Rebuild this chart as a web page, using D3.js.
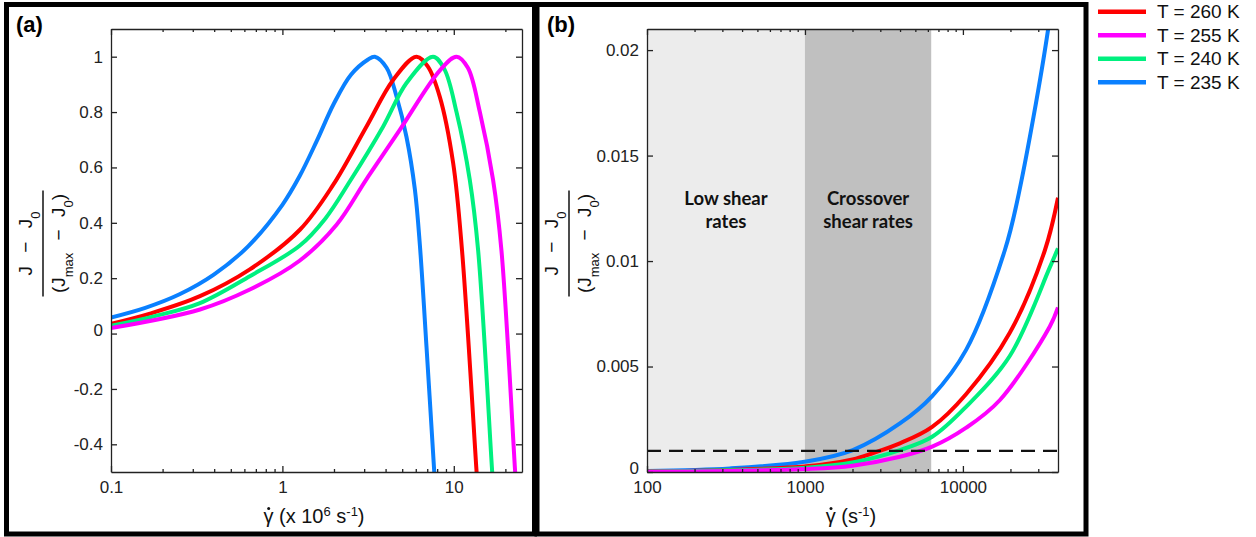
<!DOCTYPE html>
<html><head><meta charset="utf-8">
<script src="https://cdn.jsdelivr.net/npm/d3@7"></script>
<style>
body{margin:0;background:#fff;}
svg{display:block;font-family:"Liberation Sans",Arial,Helvetica,sans-serif;}
</style></head>
<body><svg id="c" width="1256" height="537"></svg>
<script>
// ---------- DATA ----------
const seriesNames = ["T = 260 K","T = 255 K","T = 240 K","T = 235 K"];
const seriesColors = ["#ff0000","#ff00ff","#00f07f","#0a80ff"];

// panel (a): shear rate (x 10^6 s^-1) vs normalised J
const a260_x = [0.1,0.1687,0.3304,0.6457,1.265,1.968,3.097,4.426,6.053,7.047,8.279,9.908,11.17,13.55,13.96];
const a260_y = [0.035,0.072,0.135,0.232,0.375,0.535,0.748,0.916,1.0,0.965,0.856,0.617,0.30,-0.49,-0.61];
const a255_x = [0.1,0.3304,0.6457,1.259,2.070,3.097,4.842,8.279,10.38,12.08,14.19,16.94,18.97,22.75,23.44];
const a255_y = [0.02,0.087,0.159,0.263,0.393,0.558,0.736,0.95,1.0,0.96,0.80,0.556,0.30,-0.49,-0.62];
const a240_x = [0.1,0.1778,0.3304,0.6457,1.265,1.778,2.477,3.873,5.297,7.568,8.81,10.37,12.39,13.87,16.71,17.22];
const a240_y = [0.028,0.062,0.11,0.207,0.318,0.415,0.55,0.748,0.905,1.0,0.955,0.80,0.556,0.30,-0.49,-0.61];
const a235_x = [0.1,0.1585,0.2512,0.398,0.631,1.0,1.259,1.585,1.995,2.512,3.162,3.46,4.055,4.634,5.297,5.929,6.339,6.934,7.674,7.889];
const a235_y = [0.058,0.093,0.142,0.213,0.315,0.465,0.568,0.695,0.83,0.935,0.99,1.0,0.96,0.856,0.71,0.52,0.32,-0.05,-0.49,-0.61];

// panel (b): shear rate (s^-1) vs normalised J
const b260_x = [100,335,1020,2000,2700,3990,6390,10500,19800,33000,40000];
const b260_y = [0.00003,0.0001,0.00027,0.0006,0.0009,0.00136,0.00214,0.0037,0.0066,0.0105,0.013];
const b255_x = [100,335,1020,2000,3990,6390,10500,17100,35500,40000];
const b255_y = [0.00001,0.00005,0.00014,0.0003,0.00072,0.0012,0.0021,0.0034,0.0069,0.0078];
const b240_x = [100,335,1020,2000,3990,6390,10500,19800,35500,40000];
const b240_y = [0.00002,0.00008,0.0002,0.00045,0.00104,0.00167,0.0031,0.0055,0.0097,0.0106];
const b235_x = [100,335,1020,2010,3990,6390,10500,18400,22300,34500,40000];
const b235_y = [0.00005,0.00017,0.0005,0.00104,0.0023,0.0036,0.0058,0.0105,0.013,0.0209,0.025];

const lowShear = [100,1000];
const crossShear = [1000,6300];
const threshold = 0.001;

const aXMajor = [0.1,1,10];
const aYTicks = [-0.4,-0.2,0,0.2,0.4,0.6,0.8,1];
const bXMajor = [100,1000,10000];
const bYTicks = [0,0.005,0.01,0.015,0.02];

// ---------- DRAW ----------
const svg = d3.select("#c");
const zip = (xs,ys)=>xs.map((x,i)=>[x,ys[i]]);

const aX = d3.scaleLog().domain([0.1,25]).range([111,522]);
const aY = d3.scaleLinear().domain([-0.5,1.1]).range([472,29]);
const bX = d3.scaleLog().domain([100,40000]).range([647,1058]);
const bY = d3.scaleLinear().domain([0,0.021]).range([472,29]);

// outer frames
svg.append("rect").attr("x",6.5).attr("y",4.5).attr("width",528).attr("height",529.5)
  .attr("fill","none").attr("stroke","#000").attr("stroke-width",5);
svg.append("rect").attr("x",537).attr("y",4.5).attr("width",549).attr("height",529.5)
  .attr("fill","none").attr("stroke","#000").attr("stroke-width",5);

function clip(id,x,y){
  svg.append("clipPath").attr("id",id).append("rect")
    .attr("x",x.range()[0]).attr("y",y.range()[1])
    .attr("width",x.range()[1]-x.range()[0]).attr("height",y.range()[0]-y.range()[1]);
}
clip("ca",aX,aY); clip("cb",bX,bY);

// shaded regions panel b
svg.append("rect").attr("x",bX(lowShear[0])).attr("y",bY.range()[1])
  .attr("width",bX(lowShear[1])-bX(lowShear[0])).attr("height",bY.range()[0]-bY.range()[1])
  .attr("fill","#ececec");
svg.append("rect").attr("x",bX(crossShear[0])).attr("y",bY.range()[1])
  .attr("width",bX(crossShear[1])-bX(crossShear[0])).attr("height",bY.range()[0]-bY.range()[1])
  .attr("fill","#c0c0c0");

const regionText = (cx, lines)=>{
  const t = svg.append("text").attr("text-anchor","middle")
    .attr("font-family","Lato, 'Open Sans', sans-serif").attr("font-weight","bold")
    .attr("font-size",18.5).attr("fill","#111");
  lines.forEach((l,i)=>t.append("tspan").attr("x",cx).attr("y",205+i*23).text(l));
};
regionText((bX(lowShear[0])+bX(lowShear[1]))/2, ["Low shear","rates"]);
regionText((bX(crossShear[0])+bX(crossShear[1]))/2, ["Crossover","shear rates"]);

function axes(x,y,xMajor,yTicks){
  const minor = x.ticks().filter(v=>!xMajor.some(m=>Math.abs(m-v)/m<1e-6) && v<x.domain()[1]*0.999);
  const g = svg.append("g");
  const yb = y.range()[0], yt = y.range()[1], xl = x.range()[0], xr = x.range()[1];
  const styl = s=>{s.selectAll("path,line").attr("stroke","#222").attr("stroke-width",1.3);};
  g.append("g").attr("transform",`translate(0,${yb})`)
    .call(d3.axisBottom(x).tickValues(xMajor).tickSize(-6).tickSizeOuter(0).tickPadding(9).tickFormat(d=>String(d)))
    .call(styl);
  g.append("g").attr("transform",`translate(0,${yb})`)
    .call(d3.axisBottom(x).tickValues(minor).tickSize(-3).tickSizeOuter(0).tickFormat(""))
    .call(s=>s.select(".domain").remove()).call(styl);
  g.append("g").attr("transform",`translate(0,${yt})`)
    .call(d3.axisTop(x).tickValues(xMajor).tickSize(-6).tickSizeOuter(0).tickFormat(""))
    .call(styl);
  g.append("g").attr("transform",`translate(0,${yt})`)
    .call(d3.axisTop(x).tickValues(minor).tickSize(-3).tickSizeOuter(0).tickFormat(""))
    .call(s=>s.select(".domain").remove()).call(styl);
  const la = g.append("g").attr("transform",`translate(${xl},0)`)
    .call(d3.axisLeft(y).tickValues(yTicks).tickSize(-6).tickSizeOuter(0).tickPadding(8).tickFormat(d=>String(d)))
    .call(styl);
  la.selectAll(".tick").filter(d=>d===0).select("text").attr("dy","0.1em");
  g.append("g").attr("transform",`translate(${xr},0)`)
    .call(d3.axisRight(y).tickValues(yTicks).tickSize(-6).tickSizeOuter(0).tickFormat(""))
    .call(styl);
  g.selectAll(".tick text").attr("font-family","'Liberation Sans',Arial,sans-serif").attr("font-size",17).attr("fill","#222");
}

// curves
const aData = [zip(a260_x,a260_y),zip(a255_x,a255_y),zip(a240_x,a240_y),zip(a235_x,a235_y)];
const bData = [zip(b260_x,b260_y),zip(b255_x,b255_y),zip(b240_x,b240_y),zip(b235_x,b235_y)];
const drawOrder = [3,0,2,1];

function curves(data,x,y,cid){
  const line = d3.line().x(d=>x(d[0])).y(d=>y(d[1])).curve(d3.curveCatmullRom.alpha(0.5));
  const g = svg.append("g").attr("clip-path",`url(#${cid})`);
  drawOrder.forEach(i=>{
    g.append("path").attr("d",line(data[i])).attr("fill","none")
      .attr("stroke",seriesColors[i]).attr("stroke-width",4).attr("stroke-linejoin","round");
  });
  return g;
}
curves(aData,aX,aY,"ca");
const gb = curves(bData,bX,bY,"cb");
gb.append("line").attr("x1",bX.range()[0]).attr("x2",bX.range()[1])
  .attr("y1",bY(threshold)).attr("y2",bY(threshold))
  .attr("stroke","#111").attr("stroke-width",2.2).attr("stroke-dasharray","14,8");

axes(aX,aY,aXMajor,aYTicks);
axes(bX,bY,bXMajor,bYTicks);

// panel labels
svg.append("text").attr("x",16).attr("y",32).attr("font-weight","bold").attr("font-size",22).text("(a)");
svg.append("text").attr("x",547).attr("y",32).attr("font-weight","bold").attr("font-size",22).text("(b)");

// x axis labels
function xLabel(cx, withExp){
  const fs = 20;
  const t = svg.append("text").attr("x",cx).attr("y",523).attr("text-anchor","middle")
    .attr("font-size",fs).attr("fill","#111");
  t.append("tspan").text("γ (");
  if(withExp){
    t.append("tspan").text("x 10");
    t.append("tspan").attr("baseline-shift","super").attr("font-size",13).text("6");
    t.append("tspan").text(" s");
  } else {
    t.append("tspan").text("s");
  }
  t.append("tspan").attr("baseline-shift","super").attr("font-size",13).text("-1");
  t.append("tspan").text(")");
  const ext = t.node().getExtentOfChar(0);
  svg.append("circle").attr("cx",ext.x+ext.width*0.52).attr("cy",523-fs*0.72).attr("r",1.5).attr("fill","#111");
}
xLabel(314,true);
xLabel(851,false);

// y axis labels (fraction)
function yLabel(lx, cy){
  const g = svg.append("g").attr("transform",`translate(${lx},${cy}) rotate(-90)`);
  g.append("line").attr("x1",-53).attr("x2",53).attr("y1",0).attr("y2",0)
    .attr("stroke","#111").attr("stroke-width",1.5);
  const n = g.append("text").attr("x",0).attr("y",-11).attr("text-anchor","middle")
    .attr("font-size",19).attr("fill","#111");
  n.append("tspan").text("J");
  n.append("tspan").attr("dx",8).text(" − ");
  n.append("tspan").attr("dx",8).text("J");
  n.append("tspan").attr("baseline-shift","sub").attr("font-size",13).text("0");
  const d = g.append("text").attr("x",0).attr("y",22).attr("text-anchor","middle")
    .attr("font-size",19).attr("fill","#111");
  d.append("tspan").text("(J");
  d.append("tspan").attr("baseline-shift","sub").attr("font-size",13).text("max");
  d.append("tspan").attr("dx",7).text(" − ");
  d.append("tspan").attr("dx",7).text("J");
  d.append("tspan").attr("baseline-shift","sub").attr("font-size",13).text("0");
  d.append("tspan").text(")");
}
yLabel(43,243.5);
yLabel(569,243.5);

// legend
const leg = svg.append("g");
seriesNames.forEach((nm,i)=>{
  const yy = 11.7 + i*23.5;
  leg.append("line").attr("x1",1098).attr("x2",1146).attr("y1",yy).attr("y2",yy)
    .attr("stroke",seriesColors[i]).attr("stroke-width",4.5);
  leg.append("text").attr("x",1157).attr("y",yy).attr("dy","0.35em")
    .attr("font-size",19).attr("fill","#111").text(nm);
});
</script></body></html>
